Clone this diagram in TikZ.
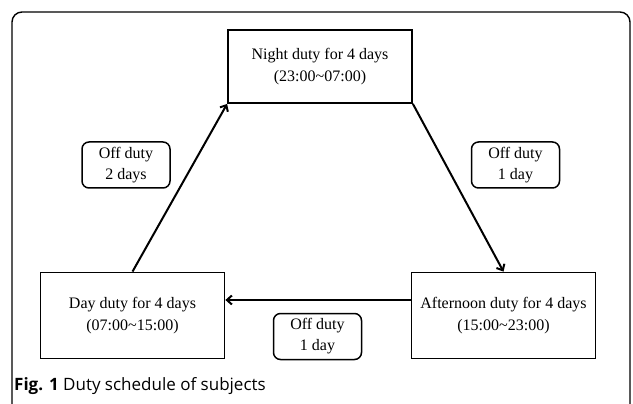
\documentclass[tikz,border=0pt]{standalone}
\usepackage{fontspec}
\setmainfont{Liberation Serif}
\newfontfamily\capfont{Open Sans}
\usetikzlibrary{arrows.meta}
\begin{document}
\begin{tikzpicture}[x=1pt,y=-1pt,
  duty/.style={draw, line width=1.8pt, minimum width=184pt, minimum height=86pt, align=center, font=\fontsize{16}{22}\selectfont, inner sep=0pt},
  off/.style={draw, rounded corners=7pt, line width=1.5pt, minimum width=88pt, minimum height=46pt, align=center, font=\fontsize{16}{21}\selectfont, inner sep=0pt},
  conn/.style={line width=2pt, -{Straight Barb[length=5pt,width=9pt,line width=2pt]}}]
\useasboundingbox (0,0) rectangle (633,404);
\draw[line width=1.4pt, rounded corners=10pt] (12,420) -- (12,12) -- (630,12) -- (630,420);
\node[duty, minimum height=73pt] (night) at (320,66.5) {Night duty for 4 days\\(23:00\textasciitilde07:00)};
\node[duty] (day) at (132.5,315.5) {Day duty for 4 days\\(07:00\textasciitilde15:00)};
\node[duty] (aft) at (503.5,315.5) {Afternoon duty for 4 days\\(15:00\textasciitilde23:00)};
\node[off] (o1) at (126,165) {Off duty\\2 days};
\node[off] (o2) at (515.5,165) {Off duty\\1 day};
\node[off] (o3) at (317.5,336.5) {Off duty\\1 day};
\draw[conn] (day.north) coordinate (dn) (dn) -- (night.south west);
\draw[conn] (night.south east) -- (aft.north);
\draw[conn] (aft.west |- 0,300) coordinate (aw) (aw) -- (day.east |- aw);
\node[anchor=base west, inner sep=0pt, font=\capfont\fontsize{17}{18}\selectfont] (cap) at (14,390) {\textbf{Fig. 1} Duty schedule of subjects};
\end{tikzpicture}
\end{document}
